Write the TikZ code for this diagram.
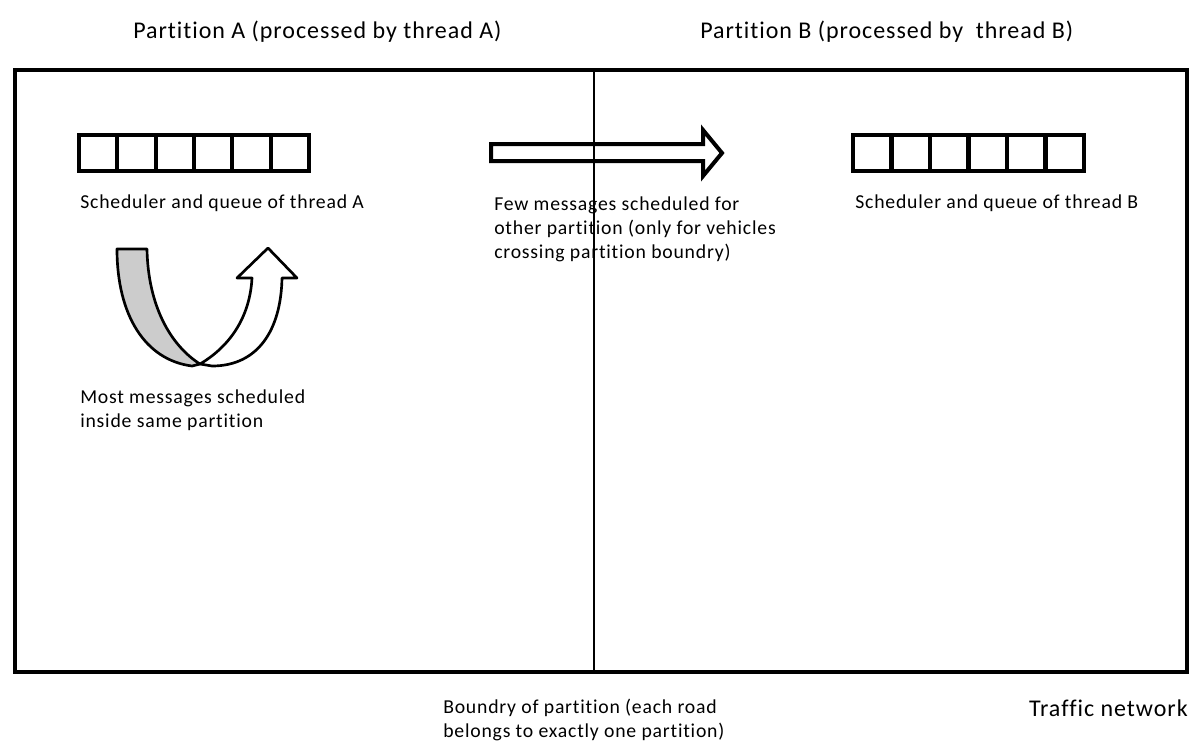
\documentclass[tikz,border=0pt]{standalone}
\usepackage{fontspec}
\setmainfont{Carlito}[LetterSpace=4, Ligatures={CommonOff}]
\usetikzlibrary{positioning}

\begin{document}
\begin{tikzpicture}[
    x=0.75pt, y=-0.75pt,
    txt/.style={font=\fontsize{14.8}{18}\selectfont, anchor=west, align=left, inner sep=0pt},
    bigtxt/.style={font=\fontsize{18}{22}\selectfont, anchor=west, inner sep=0pt},
    cell/.style={draw, line width=3pt, minimum width=28.75pt, minimum height=27pt, inner sep=0pt, outer sep=0pt},
    bigarrow/.style={draw, line width=3pt, fill=white, line join=miter},
    uturn/.style={draw, line width=2pt, line join=round}
]
\useasboundingbox (0,0) rectangle (1192,744);

% Titulos de las particiones
\node[bigtxt] (titleA) at (133,32) {Partition A (processed by thread A)};
\node[bigtxt] (titleB) at (700,32) {Partition B (processed by~ thread B)};

% Red de trafico y frontera
\draw[line width=3pt] (15,70) rectangle (1187,672);
\coordinate (bndtop) at (594,70);
\coordinate (bndbot) at (594,672);

% Colas de los planificadores
\foreach \i in {0,...,5} {
    \node[cell] (qa\i) at (79+38.33*\i+19.17,153) {};
    \node[cell] (qb\i) at (853+38.5*\i+19.25,152.5) {};
}
\node[txt] (schedA) at (80,203) {Scheduler and queue of thread A};
\node[txt] (schedB) at (855,203) {Scheduler and queue of thread B};

% Mensajes hacia la otra particion
\draw[bigarrow] (491,144) -- (703,144) -- (703,130) -- (722,153) -- (703,176) -- (703,161) -- (491,161) -- cycle;
\node[txt] (fewmsg) at (494,229) {Few messages scheduled for\\other partition (only for vehicles\\crossing partition boundry)};

% Mensajes dentro de la misma particion
\draw[uturn, fill=black!20] (117,249) -- (147,249) .. controls (148,305) and (170,345) .. (200,364) -- (192,366) .. controls (145,360) and (117,315) .. cycle;
\draw[uturn, fill=white] (200,364) .. controls (232,345) and (250,315) .. (252,278) -- (237,278) -- (268,248) -- (297,278) -- (282,278) .. controls (281,330) and (258,366) .. (212,366) -- cycle;
\node[txt] (mostmsg) at (80,410) {Most messages scheduled\\inside same partition};

\draw[line width=0.9pt] (bndtop) -- (bndbot);

% Leyendas inferiores
\node[txt] (bndlabel) at (443,720) {Boundry of partition (each road\\belongs to exactly one partition)};
\node[bigtxt, anchor=east] (netlabel) at (1188,708) {Traffic network};

\end{tikzpicture}
\end{document}
